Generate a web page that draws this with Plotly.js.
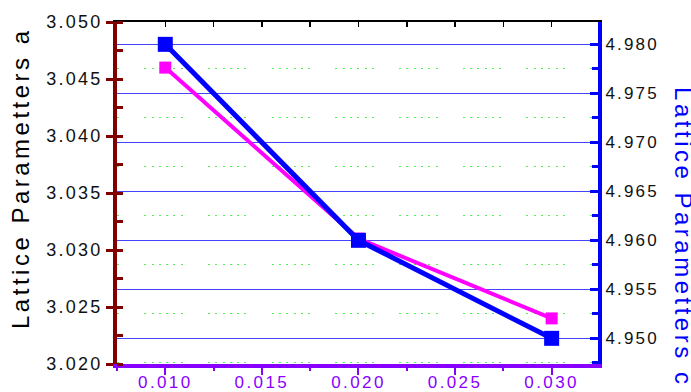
<!DOCTYPE html>
<html>
<head>
<meta charset="utf-8">
<script src="https://cdn.plot.ly/plotly-3.0.1.min.js"></script>
<style>
  body { margin: 0; padding: 0; background: #fff; }
  #chart { width: 691px; height: 392px; }
  .ytick text, .y2tick text { letter-spacing: 2.2px; }
  .xtick text { letter-spacing: 2.4px; }
  .annotation-text { letter-spacing: 3.5px; }
</style>
</head>
<body>
<div id="chart"></div>
<script>
// Data
const dopant = [0.010, 0.020, 0.030];
const latticeA = [3.046, 3.031, 3.024];
const latticeC = [4.980, 4.960, 4.950];
const titleA = "Lattice Parametters a";
const titleC = "Lattice Parametters c";

const FONT = "Arial, 'Liberation Sans', sans-serif";
const greenDash = "2px,25.2px,2px,5.3px,2px,5.3px,2px,5.3px,2px,5.3px,2px,5.3px";

const traceA = {
  x: dopant, y: latticeA, xaxis: 'x', yaxis: 'y',
  type: 'scatter', mode: 'lines+markers',
  line: { color: '#ff00ff', width: 4 },
  marker: { symbol: 'square', size: 12, color: '#ff00ff' },
  hoverinfo: 'skip'
};
const traceC = {
  x: dopant, y: latticeC, xaxis: 'x2', yaxis: 'y2',
  type: 'scatter', mode: 'lines+markers',
  line: { color: '#0000ff', width: 5 },
  marker: { symbol: 'square', size: 15, color: '#0000ff' },
  hoverinfo: 'skip'
};

const xRange = [0.0075, 0.0324];

const layout = {
  width: 691, height: 392,
  margin: { l: 117, r: 93, t: 22, b: 28, pad: 0 },
  paper_bgcolor: '#ffffff', plot_bgcolor: '#ffffff',
  showlegend: false,
  font: { family: FONT, color: '#111111' },
  xaxis: {
    range: xRange, tick0: 0.010, dtick: 0.005, tickformat: '.3f',
    showline: true, linecolor: '#8800ff', linewidth: 4,
    ticks: 'outside', ticklen: 7, tickwidth: 2, tickcolor: '#8800ff',
    ticklabelstandoff: -7,
    tickfont: { family: FONT, size: 17, color: '#8800ff' },
    minor: { tick0: 0.010, dtick: 0.0025, ticks: 'outside', ticklen: 3, tickwidth: 2, tickcolor: '#8800ff' },
    showgrid: false, zeroline: false, fixedrange: true
  },
  xaxis2: {
    range: xRange, overlaying: 'x', side: 'top', anchor: 'y2',
    tick0: 0.010, dtick: 0.0025,
    showline: true, linecolor: '#000000', linewidth: 2,
    ticks: 'inside', ticklen: 5, tickwidth: 1.5, tickcolor: '#000000',
    showticklabels: false, showgrid: false, zeroline: false, fixedrange: true
  },
  yaxis: {
    range: [3.020, 3.050], tick0: 3.020, dtick: 0.005, tickformat: '.3f',
    showline: true, linecolor: '#800000', linewidth: 4,
    ticks: 'outside', ticklen: 7, tickwidth: 3, tickcolor: '#800000',
    tickfont: { family: FONT, size: 18, color: '#111111' },
    minor: { tick0: 3.020, dtick: 0.0025, ticks: 'inside', ticklen: 6, tickwidth: 3, tickcolor: '#800000' },
    showgrid: false, zeroline: false, fixedrange: true
  },
  yaxis2: {
    range: [4.94738, 4.98228], overlaying: 'y', side: 'right', anchor: 'x2',
    tick0: 4.950, dtick: 0.005, tickformat: '.3f',
    showline: true, linecolor: '#0000ff', linewidth: 4,
    ticks: 'inside', ticklen: 8, tickwidth: 3, tickcolor: '#0000ff',
    tickfont: { family: FONT, size: 17, color: '#111111' },
    showgrid: true, gridcolor: '#4444ff', gridwidth: 1,
    minor: {
      tick0: 4.950, dtick: 0.0025, ticks: 'inside', ticklen: 6, tickwidth: 3, tickcolor: '#0000ff',
      showgrid: true, gridcolor: '#55ee55', gridwidth: 1, griddash: greenDash
    },
    zeroline: false, fixedrange: true
  },
  annotations: [
    {
      text: titleA, xref: 'paper', yref: 'paper', x: 0, y: 0.5439,
      xanchor: 'center', yanchor: 'middle', xshift: -96, textangle: -90,
      showarrow: false, font: { family: FONT, size: 24, color: '#000000' }
    },
    {
      text: titleC, xref: 'paper', yref: 'paper', x: 1, y: 0.371,
      xanchor: 'center', yanchor: 'middle', xshift: 86, textangle: 90,
      showarrow: false, font: { family: FONT, size: 24, color: '#0000ff' }
    }
  ]
};

Plotly.newPlot('chart', [traceA, traceC], layout, { staticPlot: true, displayModeBar: false });
</script>
</body>
</html>
